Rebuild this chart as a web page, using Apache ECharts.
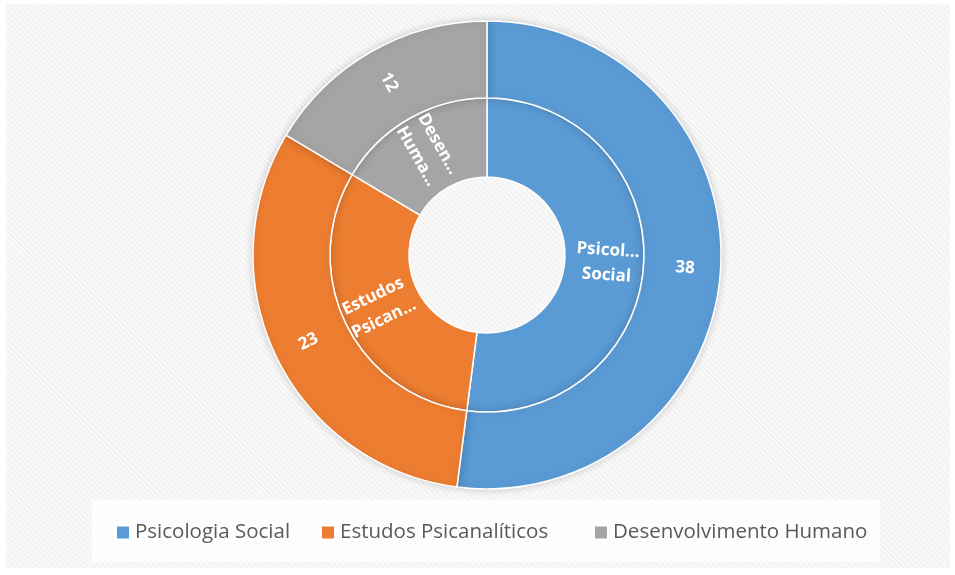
<!DOCTYPE html>
<html>
<head>
<meta charset="utf-8">
<script src="https://cdn.jsdelivr.net/npm/echarts@6/dist/echarts.min.js"></script>
<style>
  html, body { margin: 0; padding: 0; background: #ffffff; }
  #frame {
    position: absolute; left: 6px; top: 4px; width: 944px; height: 564px;
    background: repeating-linear-gradient(45deg, #f9f9f9 0px, #f9f9f9 2px, #eeeeee 3px, #f9f9f9 4px);
  }
  #chart { position: absolute; left: 0; top: 0; width: 955px; height: 575px; }
</style>
</head>
<body>
<div id="frame"></div>
<div id="chart"></div>
<script>
// Categories and counts shown in both rings
const categories = ['Psicologia Social', 'Estudos Psicanalíticos', 'Desenvolvimento Humano'];
const counts = [38, 23, 12];
// Shortened names drawn on the inner ring
const innerLabels = ['Psicol...\nSocial', 'Estudos\nPsican...', 'Desen...\nHuma...'];
const colors = ['#5b9bd5', '#ed7d31', '#a5a5a5'];

const chart = echarts.init(document.getElementById('chart'), null, { renderer: 'canvas' });

const labelFont = { fontFamily: 'Open Sans', fontWeight: 'bold', fontSize: 17, color: '#ffffff' };

// one legend entry per category, placed along the bottom strip
const legendLefts = [115, 320, 593];
const legends = categories.map((c, i) => ({
  data: [c],
  left: legendLefts[i],
  top: 522,
  padding: 0,
  icon: 'rect',
  itemWidth: 14,
  itemHeight: 14,
  textStyle: { fontFamily: 'Open Sans', fontSize: 20.5, color: '#595959' }
}));

chart.setOption({
  animation: false,
  color: colors,
  graphic: [{
    type: 'rect',
    z: -1,
    shape: { x: 92, y: 500, width: 788, height: 62 },
    style: { fill: 'rgba(255,255,255,0.75)' },
    silent: true
  }],
  legend: legends,
  series: [
    {
      name: 'inner',
      type: 'pie',
      center: [487, 255],
      radius: [78, 157],
      startAngle: 90,
      clockwise: true,
      itemStyle: { borderColor: '#ffffff', borderWidth: 1.5 },
      label: Object.assign({
        position: 'inside',
        rotate: 'radial',
        lineHeight: 25,
        align: 'center',
        formatter: p => innerLabels[p.dataIndex]
      }, labelFont),
      labelLine: { show: false },
      emphasis: { disabled: true },
      data: categories.map((c, i) => ({ name: c, value: counts[i] }))
    },
    {
      name: 'outer',
      type: 'pie',
      center: [487, 255],
      radius: [157, 234],
      startAngle: 90,
      clockwise: true,
      itemStyle: {
        borderColor: '#ffffff', borderWidth: 1.5,
        shadowBlur: 10, shadowColor: 'rgba(0,0,0,0.18)'
      },
      label: Object.assign({
        position: 'inside',
        rotate: 'radial',
        formatter: p => String(p.value)
      }, labelFont),
      labelLine: { show: false },
      emphasis: { disabled: true },
      data: categories.map((c, i) => ({ name: c, value: counts[i] }))
    }
  ]
});
</script>
</body>
</html>
